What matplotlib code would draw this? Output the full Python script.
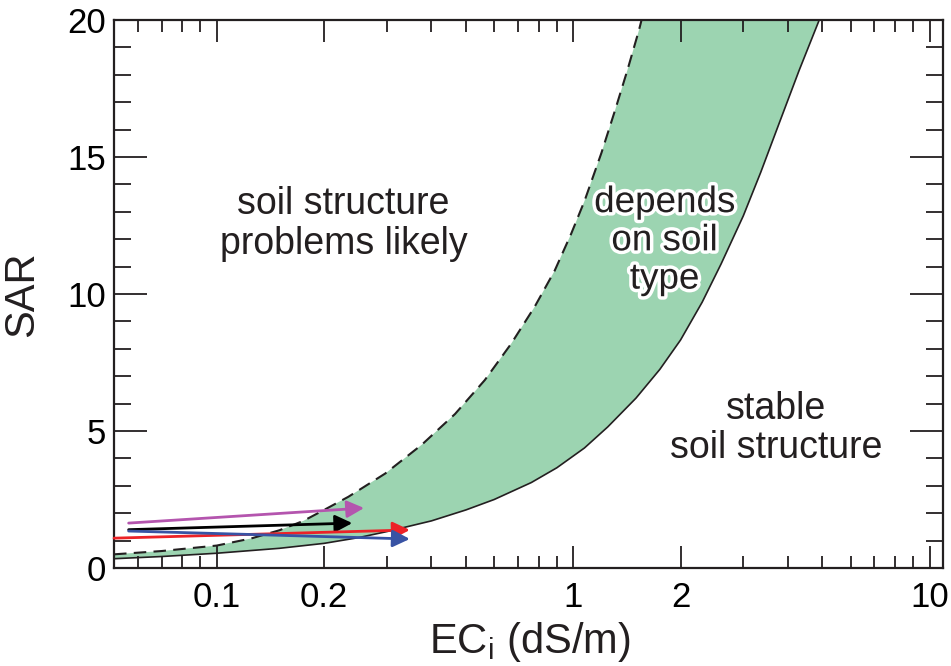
import numpy as np
import matplotlib
matplotlib.use('Agg')
from matplotlib import pyplot as plt
from matplotlib import patheffects
from matplotlib.ticker import FixedLocator, NullFormatter

plt.rcParams['font.family'] = ['Liberation Sans', 'DejaVu Sans']
plt.rcParams['mathtext.fontset'] = 'custom'
plt.rcParams['mathtext.rm'] = 'Liberation Sans'

# lower boundary (solid)
ec_solid = [0.0515, 0.07, 0.1, 0.15, 0.2, 0.25, 0.3, 0.4, 0.5, 0.6, 0.763,
            0.9, 1.075, 1.25, 1.5, 1.75, 2.0, 2.3, 2.6, 3.0, 3.36, 3.8,
            4.3, 4.9]
sar_solid = [0.34, 0.42, 0.54, 0.72, 0.9, 1.11, 1.33, 1.72, 2.12, 2.5, 3.12,
             3.66, 4.38, 5.15, 6.2, 7.25, 8.32, 9.7, 11.1, 12.85, 14.45, 16.3,
             18.15, 20.0]

# upper boundary (dashed)
ec_dash = [0.0515, 0.07, 0.1, 0.125, 0.15, 0.175, 0.2, 0.234, 0.297, 0.376,
           0.466, 0.565, 0.671, 0.78, 0.887, 0.987, 1.076, 1.2, 1.31, 1.42,
           1.53, 1.555]
sar_dash = [0.5, 0.62, 0.82, 1.08, 1.38, 1.72, 2.12, 2.6, 3.45, 4.5,
            5.62, 6.86, 8.2, 9.54, 10.85, 12.2, 13.4, 15.15, 16.7, 18.18,
            19.64, 20.0]

# arrows: (start EC, start SAR, end EC, end SAR)
arrow_colors = ['#b455ae', '#000000', '#ec2227', '#3853a4']
arrow_start_ec = [0.0566, 0.0566, 0.0515, 0.0566]
arrow_start_sar = [1.64, 1.40, 1.09, 1.35]
arrow_end_ec = [0.259, 0.24, 0.348, 0.348]
arrow_end_sar = [2.19, 1.64, 1.39, 1.06]

xticks_major = [0.1, 0.2, 1, 2, 10]
xtick_labels = ['0.1', '0.2', '1', '2', '10']
xticks_minor = [0.06, 0.07, 0.08, 0.09, 0.3, 0.4, 0.5, 0.6, 0.7, 0.8, 0.9,
                3, 4, 5, 6, 7, 8, 9]

fig = plt.figure(figsize=(9.51, 6.66), dpi=100)
ax = fig.add_axes([0.1199, 0.1471, 0.8717, 0.8229])

ax.set_xscale('log')
ax.set_xlim(0.0515, 10.9)
ax.set_ylim(0, 20)

poly_x = np.concatenate([ec_dash, ec_solid[::-1]])
poly_y = np.concatenate([sar_dash, sar_solid[::-1]])
ax.fill(poly_x, poly_y, color='#9cd4b1', lw=0, zorder=1)
ax.plot(ec_solid, sar_solid, color='#231f20', lw=1.2, zorder=2)
dash_line, = ax.plot(ec_dash, sar_dash, color='#231f20', lw=1.5, zorder=2)
dash_line.set_dashes([6, 3.5])

for c, x0, y0, x1, y1 in zip(arrow_colors, arrow_start_ec, arrow_start_sar,
                             arrow_end_ec, arrow_end_sar):
    ax.annotate('', xy=(x1, y1), xytext=(x0, y0),
                arrowprops=dict(arrowstyle='-|>', color=c, lw=2.0,
                                mutation_scale=26, shrinkA=0, shrinkB=0),
                zorder=3)

ax.text(0.277, 0.628, 'soil structure\nproblems likely', transform=ax.transAxes,
        ha='center', va='center', fontsize=27, linespacing=1.12, color='#231f20')
ax.text(0.799, 0.255, 'stable\nsoil structure', transform=ax.transAxes,
        ha='center', va='center', fontsize=27, linespacing=1.12, color='#231f20')
ax.text(0.664, 0.597, 'depends\non soil\ntype', transform=ax.transAxes,
        ha='center', va='center', fontsize=26.5, linespacing=1.12, color='#231f20',
        path_effects=[patheffects.withStroke(linewidth=5, foreground='white')])

ax.xaxis.set_major_locator(FixedLocator(xticks_major))
ax.set_xticklabels(xtick_labels)
ax.xaxis.set_minor_locator(FixedLocator(xticks_minor))
ax.xaxis.set_minor_formatter(NullFormatter())
ax.set_yticks([0, 5, 10, 15, 20])
ax.set_yticks(np.arange(0, 21, 1), minor=True)

ax.tick_params(axis='both', which='both', direction='in', top=True, right=True,
               color='#231f20', width=1.3)
ax.tick_params(axis='x', which='major', length=16, pad=9, labelsize=25)
ax.tick_params(axis='x', which='minor', length=8.5)
ax.tick_params(axis='y', which='major', length=24, pad=6, labelsize=25)
ax.tick_params(axis='y', which='minor', length=12)
for s in ax.spines.values():
    s.set_linewidth(1.6)
    s.set_color('#231f20')

ax.set_xlabel('EC$_\\mathregular{i}$ (dS/m)', fontsize=30, color='#231f20')
ax.set_ylabel('SAR', fontsize=30, color='#231f20')
ax.xaxis.set_label_coords(0.502, -0.095)
ax.yaxis.set_label_coords(-0.087, 0.5)

fig.savefig('out.png', dpi=100)
